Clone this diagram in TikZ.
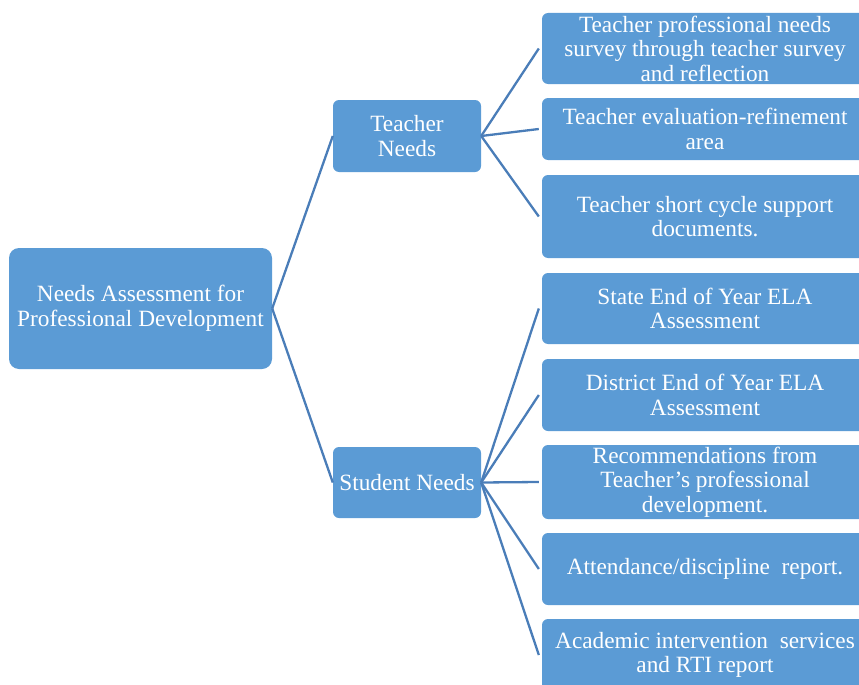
\documentclass[tikz,border=0pt]{standalone}
\usepackage{fontspec}
\setmainfont{Liberation Serif}
\usepackage{xcolor}
\usepackage{tikz}
\usetikzlibrary{calc}

\definecolor{boxblue}{HTML}{5B9BD5}
\definecolor{lineblue}{HTML}{4A7DB8}

\begin{document}
\begin{tikzpicture}[x = 1pt, y = -1pt,
		needbox/.style = {rectangle, rounded corners = 6pt, fill = boxblue, text = white, inner sep = 0pt, align = center, font = \fontsize{23.3}{24.5}\selectfont},
		link/.style = {draw = lineblue, line width = 2.3pt}]
					\useasboundingbox (0,0) rectangle (859,685);
					\clip (0,0) rectangle (859,685);

					\begin{scope}
						\node[needbox, rounded corners = 10pt, minimum width = 263pt, minimum height = 121pt] (root) at (140.5,308.5) {Needs Assessment for\\Professional Development};
						\node[needbox, minimum width = 148pt, minimum height = 72pt] (teacher) at (407,136) {Teacher\\Needs};
						\node[needbox, minimum width = 148pt, minimum height = 71pt] (student) at (407,482.5) {Student Needs};
					\end{scope}

					\begin{scope}[every node/.style = {needbox, minimum width = 326pt}]
						\node[minimum height = 71pt] (tsurvey) at (705,48.5) {Teacher professional needs\\survey through teacher survey\\and reflection};
						\node[minimum height = 62pt] (teval) at (705,129) {Teacher evaluation-refinement\\area};
						\node[minimum height = 83pt] (tcycle) at (705,216.5) {Teacher short cycle support\\documents.};
						\node[minimum height = 71pt] (state) at (705,308.5) {State End of Year ELA\\Assessment};
						\node[minimum height = 72pt] (district) at (705,395) {District End of Year ELA\\Assessment};
						\node[minimum height = 74pt] (recomm) at (705,482) {Recommendations from\\Teacher's professional\\development.};
						\node[minimum height = 72pt] (attend) at (705,569) {Attendance/discipline\ \ report.};
						\node[minimum height = 72pt] (rti) at (705,655) {Academic intervention\ \ services\\and RTI report};
					\end{scope}

					\begin{scope}[link]
						\draw (root.east) -- (teacher.west);
						\draw (root.east) -- (student.west);
						\foreach \n in {tsurvey, teval, tcycle}
						{
							\draw (teacher.east) -- ([xshift = -3pt]\n.west);
						}
						\foreach \n in {state, district, recomm, attend, rti}
						{
							\draw (student.east) -- ([xshift = -3pt]\n.west);
						}
					\end{scope}
				\end{tikzpicture}
\end{document}
